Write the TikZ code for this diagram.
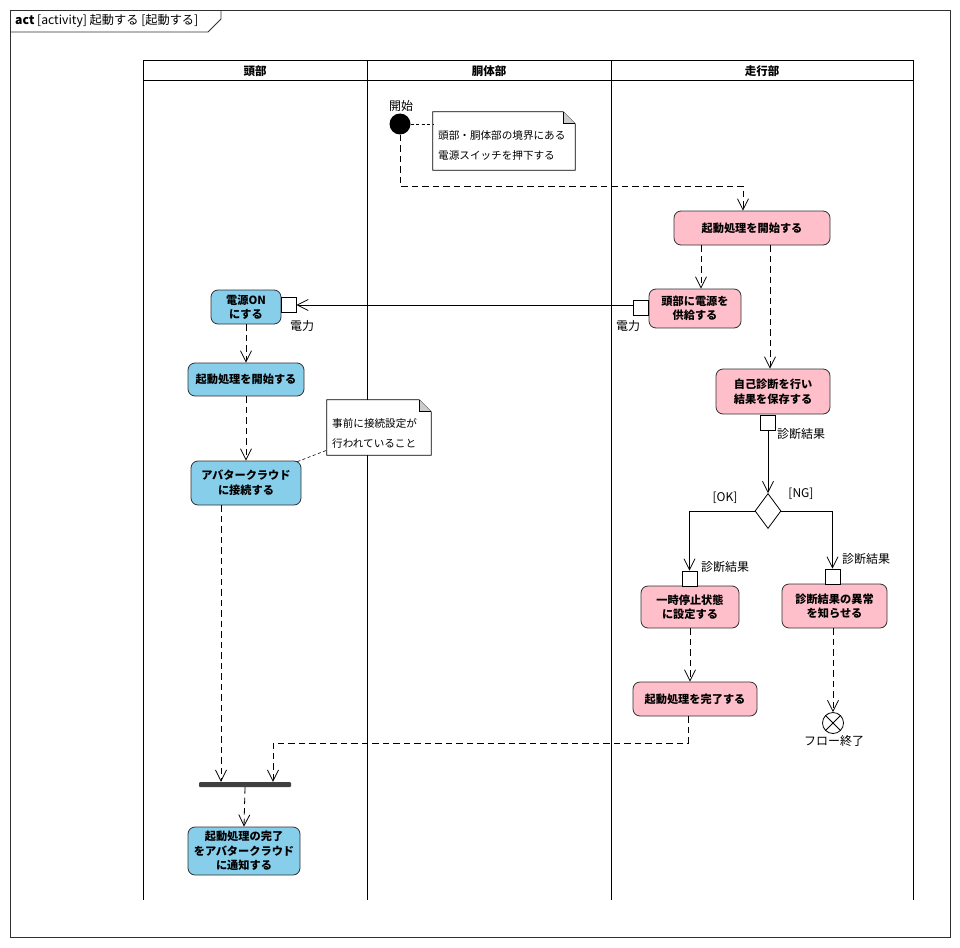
\documentclass[tikz,border=0pt]{standalone}
\usepackage{fontspec}
\setmainfont{Noto Sans CJK JP}
\usetikzlibrary{arrows.meta,shapes.geometric,calc}
\definecolor{pinkc}{HTML}{FFBFCA}
\definecolor{bluec}{HTML}{87CEEB}
\definecolor{edgec}{HTML}{303030}
\begin{document}
\begin{tikzpicture}[x=1pt,y=-1pt,
  every node/.style={font=\fontsize{11}{13}\selectfont},
  act/.style={draw=edgec, rounded corners=7pt, align=center, inner sep=0pt, line width=0.8pt,
    font=\bfseries\fontsize{11.2}{14.5}\selectfont},
  pinkact/.style={act, fill=pinkc},
  blueact/.style={act, fill=bluec},
  pinbox/.style={draw=black, fill=white, minimum size=15pt, inner sep=0pt, line width=0.8pt},
  flowarrow/.style={line width=0.8pt, dash pattern=on 6.5pt off 4pt, -{Straight Barb[length=11pt,width=11pt]}},
  solidarrow/.style={line width=0.8pt, -{Straight Barb[length=11pt,width=11pt]}},
  notelink/.style={line width=0.6pt, dash pattern=on 3pt off 2.5pt},
  notebox/.style={minimum width=#1, inner sep=0pt},
  notetext/.style={align=left, inner sep=0pt, font=\fontsize{10.6}{20}\selectfont},
  lbl/.style={inner sep=0pt, font=\fontsize{12}{13}\selectfont},
  lanehead/.style={inner sep=0pt, font=\bfseries\fontsize{11.5}{13}\selectfont},
  laneline/.style={line width=1pt, draw=black}
]
\useasboundingbox (0,0) rectangle (960,947);
% frame
\draw[line width=0.8pt, draw=edgec] (10,10) rectangle (950,937);
\draw[line width=0.8pt, draw=edgec] (10,32) -- (208,32) -- (221,19) -- (221,10);
\node[anchor=west, inner sep=0pt, font=\fontsize{12.2}{13}\selectfont] (title) at (15,21) {\textbf{act} [activity] 起動する [起動する]};
% swimlanes
\draw[laneline] (143,61) rectangle (913,81);
\draw[laneline] (143,61) -- (143,900);
\draw[laneline] (367,61) -- (367,900);
\draw[laneline] (611,61) -- (611,900);
\draw[laneline] (913,61) -- (913,900);
\node[lanehead] (h1) at (255,71.5) {頭部};
\node[lanehead] (h2) at (489,71.5) {胴体部};
\node[lanehead] (h3) at (762,71.5) {走行部};
% start
\node[circle, fill=black, minimum size=21pt, inner sep=0pt] (start) at (400,124) {};
\node[lbl] (startlbl) at (401,106) {開始};
% note 1
\node[notebox=142pt, minimum height=58pt] (n1) at (504,141) {};
\draw[line width=0.7pt, fill=white] (n1.north west) -- ($(n1.north east)+(-12,0)$) -- ($(n1.north east)+(0,12)$) -- (n1.south east) -- (n1.south west) -- cycle;
\fill[black!20] ($(n1.north east)+(-12,0)$) -- ($(n1.north east)+(0,12)$) -- ($(n1.north east)+(-12,12)$) -- cycle;
\draw[line width=0.7pt] ($(n1.north east)+(-12,0)$) -- ($(n1.north east)+(-12,12)$) -- ($(n1.north east)+(0,12)$);
\node[notetext, anchor=west] (n1t) at (438,145) {頭部・胴体部の境界にある\\電源スイッチを押下する};
\draw[notelink] (start.east) -- (n1.west |- start.east);
% actions
\node[pinkact, minimum width=156pt, minimum height=34pt] (a1) at (752,228) {起動処理を開始する};
\node[pinkact, minimum width=92pt, minimum height=39pt] (a2) at (695,308.5) {頭部に電源を\\供給する};
\node[pinkact, minimum width=114pt, minimum height=45pt] (a3) at (773,391.5) {自己診断を行い\\結果を保存する};
\node[pinkact, minimum width=98pt, minimum height=42pt] (a4) at (690,607) {一時停止状態\\に設定する};
\node[pinkact, minimum width=105pt, minimum height=44pt] (a5) at (834.5,606) {診断結果の異常\\を知らせる};
\node[pinkact, minimum width=124pt, minimum height=34pt] (a6) at (695,699) {起動処理を完了する};
\node[blueact, minimum width=70pt, minimum height=34pt] (b1) at (246,307) {電源ON\\にする};
\node[blueact, minimum width=116pt, minimum height=33pt] (b2) at (246,379.5) {起動処理を開始する};
\node[blueact, minimum width=110pt, minimum height=44pt] (b3) at (246,483) {アバタークラウド\\に接続する};
\node[blueact, minimum width=112pt, minimum height=48pt] (b4) at (244,851) {起動処理の完了\\をアバタークラウド\\に通知する};
% pins
\node[pinbox] (pa2) at (641,308) {};
\node[pinbox] (pb1) at (288.5,305) {};
\node[pinbox] (pa3) at (768,422.5) {};
\node[pinbox] (pa4) at (689.5,578.5) {};
\node[pinbox] (pa5) at (832.5,576.5) {};
\node[lbl] (l1) at (628,326) {電力};
\node[lbl] (l2) at (302,326) {電力};
\node[lbl] (l3) at (801,434) {診断結果};
\node[lbl] (l4) at (725,567) {診断結果};
\node[lbl] (l5) at (866,559) {診断結果};
% decision
\node[draw, diamond, minimum width=26pt, minimum height=35pt, inner sep=0pt, fill=white, line width=0.8pt] (dec) at (768,511) {};
\node[lbl] (ok) at (725,498) {[OK]};
\node[lbl] (ng) at (801,494) {[NG]};
% join bar
\node[fill=black!75, minimum width=92pt, minimum height=5pt, inner sep=0pt, rounded corners=1pt] (bar) at (245,784.5) {};
% final
\node[draw, circle, minimum size=21pt, inner sep=0pt, fill=white, line width=0.8pt] (fin) at (833,723) {};
\draw[line width=0.8pt] (fin.north west) -- (fin.south east) (fin.north east) -- (fin.south west);
\node[lbl] (finlbl) at (834,741) {フロー終了};
% note 2
\node[notebox=104pt, minimum height=55pt] (n2) at (379,427.5) {};
\draw[line width=0.7pt, fill=white] (n2.north west) -- ($(n2.north east)+(-12,0)$) -- ($(n2.north east)+(0,12)$) -- (n2.south east) -- (n2.south west) -- cycle;
\fill[black!20] ($(n2.north east)+(-12,0)$) -- ($(n2.north east)+(0,12)$) -- ($(n2.north east)+(-12,12)$) -- cycle;
\draw[line width=0.7pt] ($(n2.north east)+(-12,0)$) -- ($(n2.north east)+(-12,12)$) -- ($(n2.north east)+(0,12)$);
\node[notetext, anchor=west] (n2t) at (332,433) {事前に接続設定が\\行われていること};
\draw[notelink] ($(b3.north east)+(-4,1)$) -- ($(n2.south west)+(0,-5)$);
% helper coordinates
\coordinate (k1) at (743,186);
\coordinate (x701) at (701,0);
\coordinate (x770) at (770,0);
\coordinate (x221) at (221,0);
\coordinate (k2) at (688,743);
\coordinate (k3) at (273,743);
% connectors
\draw[flowarrow] (start.south) |- (k1) -- (k1 |- a1.north);
\draw[flowarrow] (a1.south -| x701) -- (a2.north -| x701);
\draw[flowarrow] (a1.south -| x770) -- (a3.north -| x770);
\draw[solidarrow] (pa2.west |- pb1.east) -- (pb1.east);
\draw[flowarrow] (b1.south) -- (b2.north);
\draw[flowarrow] (b2.south) -- (b3.north);
\draw[flowarrow] (b3.south -| x221) -- (bar.north -| x221);
\draw[flowarrow] (a6.south -| k2) -- (k2) -- (k3) -- (bar.north -| k3);
\draw[flowarrow] (bar.south) -- (b4.north);
\draw[solidarrow] (pa3.south) -- (dec.north);
\draw[solidarrow] (dec.west) -| (pa4.north);
\draw[solidarrow] (dec.east) -| (pa5.north);
\draw[flowarrow] (a4.south) -- (a6.north -| a4.south);
\draw[flowarrow] (a5.south -| fin.north) -- (fin.north);
\end{tikzpicture}
\end{document}
